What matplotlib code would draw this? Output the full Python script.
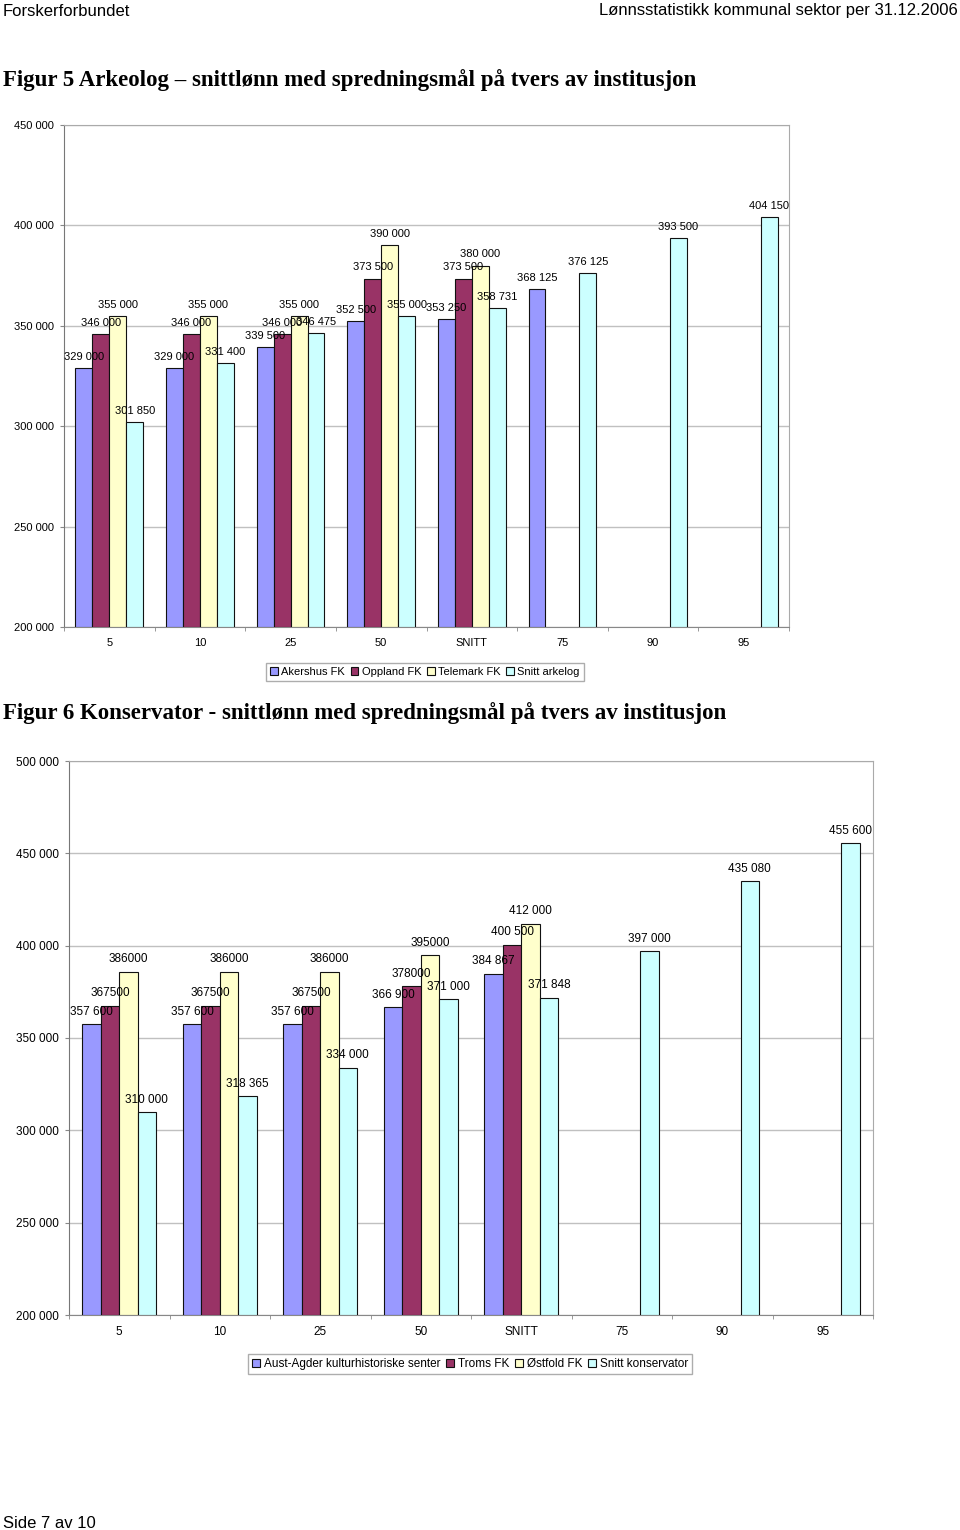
import numpy as np
import matplotlib
matplotlib.use("Agg")
import matplotlib.pyplot as plt
from matplotlib.patches import Patch

plt.rcParams['font.family'] = ['Liberation Sans', 'DejaVu Sans']

# ---- data ----
kategorier = ['5', '10', '25', '50', 'SNITT', '75', '90', '95']
nan = np.nan

# Figur 5 - Arkeolog
serier5 = ['Akershus FK', 'Oppland FK', 'Telemark FK', 'Snitt arkelog']
akershus = [329000, 329000, 339500, 352500, 353250, 368125, nan, nan]
oppland = [346000, 346000, 346000, 373500, 373500, nan, nan, nan]
telemark = [355000, 355000, 355000, 390000, 380000, nan, nan, nan]
snitt_ark = [301850, 331400, 346475, 355000, 358731, 376125, 393500, 404150]

# Figur 6 - Konservator
serier6 = ['Aust-Agder kulturhistoriske senter', 'Troms FK', 'Østfold FK', 'Snitt konservator']
aust_agder = [357600, 357600, 357600, 366900, 384867, nan, nan, nan]
troms = [367500, 367500, 367500, 378000, 400500, nan, nan, nan]
ostfold = [386000, 386000, 386000, 395000, 412000, nan, nan, nan]
snitt_kons = [310000, 318365, 334000, 371000, 371848, 397000, 435080, 455600]
# labels as written in the original (some without thousand separators)
etik_aust = ['357 600', '357 600', '357 600', '366 900', '384 867']
etik_troms = ['367500', '367500', '367500', '378000', '400 500']
etik_ostfold = ['386000', '386000', '386000', '395000', '412 000']

farger = ['#9999FF', '#993366', '#FFFFCC', '#CCFFFF']


def fmt(v):
    return '{:,.0f}'.format(v).replace(',', ' ')


def lag_diagram(ax, serier, navn, etiketter, ymin, ymax, w, fs):
    x = np.arange(len(kategorier))
    for j, (verdier, lab) in enumerate(zip(serier, etiketter)):
        pos = x + (j - 1.5) * w
        ax.bar(pos, np.array(verdier) - ymin, width=w, bottom=ymin,
               color=farger[j], edgecolor='#111111', linewidth=0.8,
               label=navn[j], zorder=3)
        k = 0
        for p, v in zip(pos, verdier):
            if np.isnan(v):
                continue
            tekst = lab[k] if lab is not None and k < len(lab) else fmt(v)
            k += 1
            ax.annotate(tekst, (p, v), xytext=(0, 4.5), textcoords='offset points',
                        ha='center', va='bottom', fontsize=fs, zorder=4)
    ax.set_xlim(-0.5, len(kategorier) - 0.5)
    ax.set_ylim(ymin, ymax)
    ax.set_yticks(np.arange(ymin, ymax + 1, 50000))
    ax.set_yticklabels([fmt(t) for t in np.arange(ymin, ymax + 1, 50000)], fontsize=fs)
    ax.yaxis.grid(True, color='#C0C0C0', linewidth=1, zorder=0)
    ax.set_xticks(x)
    ax.set_xticklabels(kategorier, fontsize=fs)
    ax.set_xticks(np.arange(-0.5, len(kategorier)), minor=True)
    ax.tick_params(axis='x', which='major', length=0, pad=8)
    ax.tick_params(axis='x', which='minor', length=3, color='#888888')
    ax.tick_params(axis='y', length=3, color='#888888', pad=4)
    for s in ax.spines.values():
        s.set_color('#AAAAAA')
    ax.spines['left'].set_color('#777777')
    ax.spines['bottom'].set_color('#888888')


fig = plt.figure(figsize=(9.6, 15.3), dpi=100)

# header / footer
narrow = ['Liberation Sans Narrow', 'Liberation Sans', 'DejaVu Sans']
fig.text(3 / 960, 1 - 11 / 1530, 'Forskerforbundet', family=narrow, fontsize=12, va='center')
fig.text(958 / 960, 1 - 11 / 1530, 'Lønnsstatistikk kommunal sektor per 31.12.2006',
         family=narrow, fontsize=12, va='center', ha='right')
fig.text(3 / 960, 1 - 1523 / 1530, 'Side 7 av 10', family=narrow, fontsize=12, va='center')

tittel_font = ['Liberation Serif', 'DejaVu Serif']
fig.text(3 / 960, 1 - 80 / 1530,
         'Figur 5 Arkeolog – snittlønn med spredningsmål på tvers av institusjon',
         family=tittel_font, fontweight='bold', fontsize=16.5, va='center')
fig.text(3 / 960, 1 - 713 / 1530,
         'Figur 6 Konservator - snittlønn med spredningsmål på tvers av institusjon',
         family=tittel_font, fontweight='bold', fontsize=16.5, va='center')

# Figur 5
ax1 = fig.add_axes([64 / 960, 1 - 627 / 1530, 725 / 960, 502 / 1530])
lag_diagram(ax1, [akershus, oppland, telemark, snitt_ark], serier5,
            [None, None, None, None], 200000, 450000, 0.187, 8)
h1 = [Patch(facecolor=c, edgecolor='#111111', linewidth=0.8) for c in farger]
fig.legend(h1, serier5, loc='center', bbox_to_anchor=(425 / 960, 1 - 672 / 1530),
           ncol=4, fontsize=8, fancybox=False, edgecolor='#999999',
           handlelength=0.7, handleheight=0.7, handletextpad=0.3,
           columnspacing=0.5, borderpad=0.35, borderaxespad=0)

# Figur 6
ax2 = fig.add_axes([69 / 960, 1 - 1315 / 1530, 804 / 960, 554 / 1530])
lag_diagram(ax2, [aust_agder, troms, ostfold, snitt_kons], serier6,
            [etik_aust, etik_troms, etik_ostfold, None], 200000, 500000, 0.183, 8.5)
fig.legend(h1, serier6, loc='center', bbox_to_anchor=(470 / 960, 1 - 1364 / 1530),
           ncol=4, fontsize=8.5, fancybox=False, edgecolor='#999999',
           handlelength=0.7, handleheight=0.7, handletextpad=0.3,
           columnspacing=0.5, borderpad=0.35, borderaxespad=0)

fig.savefig('out.png', dpi=100)
